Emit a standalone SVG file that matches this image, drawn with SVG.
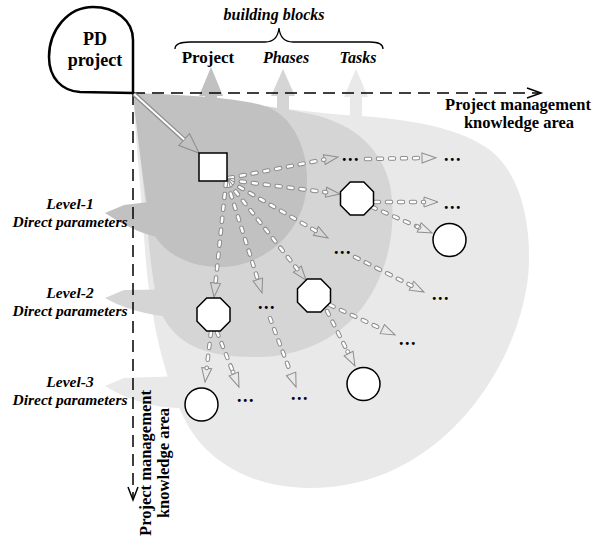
<svg xmlns="http://www.w3.org/2000/svg" width="594" height="542" viewBox="0 0 594 542">
<style>
text{font-family:"Liberation Serif","Times New Roman",serif;font-weight:bold;fill:#000}
.it{font-style:italic}
.lvl{font-size:15.5px;font-style:italic;text-anchor:middle}
.dots{font-size:18px;letter-spacing:1.5px;text-anchor:middle}
.dark{fill:#c1c1c1}.mid{fill:#d5d5d5}.light{fill:#e9e9e9}
.co{fill:none;stroke:#8c8c8c;stroke-width:4.5;stroke-linecap:round;stroke-dasharray:4 8;marker-end:url(#ah)}
.ci{fill:none;stroke:#fff;stroke-width:2.5;stroke-linecap:round;stroke-dasharray:4 8}
.node{fill:#fff;stroke:#000;stroke-width:1.5}
.axis{fill:none;stroke:#000;stroke-width:1.5;stroke-dasharray:12 7}
.ring{fill:#fff;stroke:#8c8c8c;stroke-width:1}
</style>
<defs>
<marker id="ah" markerUnits="userSpaceOnUse" markerWidth="16" markerHeight="12" refX="0" refY="5" orient="auto" overflow="visible">
<path d="M0,0 L14,5 L0,10 Z" fill="none" stroke="#8c8c8c" stroke-width="1"/>
</marker>
<marker id="ahb" markerUnits="userSpaceOnUse" markerWidth="22" markerHeight="18" refX="0" refY="8" orient="auto" overflow="visible">
<path d="M0,0 L20,8 L0,16 Z" fill="none" stroke="#8c8c8c" stroke-width="1"/>
</marker>
</defs>

<g id="regions">
<path class="light" d="M133,93 C230,100 300,112 360,116 C420,120 462,130 490,150 C522,175 530,225 529,262 C527,350 450,488 310,488 C250,488 205,460 185,420 C165,380 150,320 145,250 C140,180 135,130 133,93 Z"/>
<polygon class="light" points="356,69 368,97 362,97 362,118 350,118 350,97 344,97"/>
<path class="light" d="M105,386 L124,378 L182,376 L182,408 Q140,408 105,386 Z"/>
<path class="mid" d="M133,93 C200,97 260,104 300,112 C350,120 380,145 390,185 C400,240 380,300 340,330 C310,352 280,357 255,357 C205,357 172,345 158,305 C150,270 148,230 145,200 C140,150 136,120 133,93 Z"/>
<polygon class="mid" points="283,69 295,96 289,96 289,114 277,114 277,96 271,96"/>
<path class="mid" d="M105,298 L124,290 L195,289 L195,318 Q140,318 105,298 Z"/>
<path class="dark" d="M133,93 C190,95 245,98 270,108 C295,120 307,150 307,180 C307,230 265,267 220,267 C185,267 160,250 152,230 C145,200 138,140 133,93 Z"/>
<polygon class="dark" points="211,67 223,96 217,96 217,112 205,112 205,96 199,96"/>
<path class="dark" d="M105,213 L124,205 L165,200 L165,238 Q140,236 105,213 Z"/>
</g>

<g id="axes">
<path class="axis" d="M133,93 H539"/>
<path d="M527,88 L541,93 L527,98" fill="none" stroke="#000" stroke-width="1.5"/>
<path class="axis" d="M133,93 V498"/>
<path d="M128,487 L133,500 L138,487" fill="none" stroke="#000" stroke-width="1.5"/>
</g>

<g id="connectors">
<path d="M134,94 L184.2,139.6" fill="none" stroke="#8c8c8c" stroke-width="4.5" marker-end="url(#ahb)"/>
<path d="M134,94 L184.2,139.6" fill="none" stroke="#fff" stroke-width="2"/>
<path class="co" d="M229,178 L324.3,159.6"/><path class="ci" d="M229,178 L324.3,159.6"/>
<path class="co" d="M229,180 L326.1,192.2"/><path class="ci" d="M229,180 L326.1,192.2"/>
<path class="co" d="M229,181 L315.9,231"/><path class="ci" d="M229,181 L315.9,231"/>
<path class="co" d="M228,182 L297.3,269.1"/><path class="ci" d="M228,182 L297.3,269.1"/>
<path class="co" d="M227,182 L257.8,279.6"/><path class="ci" d="M227,182 L257.8,279.6"/>
<path class="co" d="M226,182 L215.5,283.1"/><path class="ci" d="M226,182 L215.5,283.1"/>
<path class="co" d="M366,159 L422,158"/><path class="ci" d="M366,159 L422,158"/>
<path class="co" d="M375,202 L424,202"/><path class="ci" d="M375,202 L424,202"/>
<path class="co" d="M372,207 L419.2,227.4"/><path class="ci" d="M372,207 L419.2,227.4"/>
<path class="co" d="M355,257 L411.5,285.7"/><path class="ci" d="M355,257 L411.5,285.7"/>
<path class="co" d="M330,305 L382.3,329.1"/><path class="ci" d="M330,305 L382.3,329.1"/>
<path class="co" d="M327,311 L348.6,353.5"/><path class="ci" d="M327,311 L348.6,353.5"/>
<path class="co" d="M211,332 L206.7,368.1"/><path class="ci" d="M211,332 L206.7,368.1"/>
<path class="co" d="M217,332 L233.8,374"/><path class="ci" d="M217,332 L233.8,374"/>
<path class="co" d="M270,318 L291.1,373.9"/><path class="ci" d="M270,318 L291.1,373.9"/>
<circle class="ring" cx="417.4" cy="226.6" r="2"/>
<circle class="ring" cx="347.7" cy="351.7" r="2"/>
<circle class="ring" cx="233" cy="372.1" r="2"/>
</g>

<g id="pd-project">
<path d="M133,93 L133,40 C133,20 115,7 93,7 C68,7 49,30 49,57 C49,78 62,91 80,92 L133,93 Z" fill="#fff" stroke="#000" stroke-width="2.5" stroke-linejoin="round"/>
<text x="95" y="45" font-size="18" text-anchor="middle">PD</text>
<text x="95" y="66" font-size="18" text-anchor="middle">project</text>
</g>

<g id="building-blocks">
<path d="M175,49 C175,44 180,42 190,42 L265,42 C272,42 278,38 279,28 C280,38 286,42 293,42 L370,42 C378,42 383,44 383,49" fill="none" stroke="#000" stroke-width="1.3"/>
<text class="it" x="274" y="20" font-size="16" text-anchor="middle">building blocks</text>
<text x="208" y="63" font-size="17" text-anchor="middle">Project</text>
<text class="it" x="286" y="63" font-size="16" text-anchor="middle">Phases</text>
<text class="it" x="358" y="63" font-size="16" text-anchor="middle">Tasks</text>
</g>

<g id="axis-labels">
<text x="518" y="110" font-size="16.5" text-anchor="middle">Project management</text>
<text x="519" y="128" font-size="16.5" text-anchor="middle">knowledge area</text>
<text transform="translate(151,463) rotate(-90)" font-size="16.5" text-anchor="middle">Project management</text>
<text transform="translate(169,463) rotate(-90)" font-size="16.5" text-anchor="middle">knowledge area</text>
</g>

<g id="level-labels">
<text class="lvl" x="70" y="209">Level-1</text>
<text class="lvl" x="70" y="227">Direct parameters</text>
<text class="lvl" x="70" y="298">Level-2</text>
<text class="lvl" x="70" y="316">Direct parameters</text>
<text class="lvl" x="70" y="387">Level-3</text>
<text class="lvl" x="70" y="405">Direct parameters</text>
</g>

<g id="square"><rect class="node" x="199" y="153" width="28" height="28"/></g>
<g id="oct-a"><polygon class="node" points="350.2,182 363.8,182 373.5,191.7 373.5,205.3 363.8,215 350.2,215 340.5,205.3 340.5,191.7"/></g>
<g id="oct-b"><polygon class="node" points="206.7,298 220.3,298 230,307.7 230,321.3 220.3,331 206.7,331 197,321.3 197,307.7"/></g>
<g id="oct-c"><polygon class="node" points="307.2,279 320.8,279 330.5,288.7 330.5,302.3 320.8,312 307.2,312 297.5,302.3 297.5,288.7"/></g>
<g id="circle-a"><circle class="node" cx="449.5" cy="240" r="16.5"/></g>
<g id="circle-b"><circle class="node" cx="201.5" cy="404.5" r="16.5"/></g>
<g id="circle-c"><circle class="node" cx="363.5" cy="384" r="16.5"/></g>

<g id="ellipses">
<text class="dots" x="351" y="161">...</text>
<text class="dots" x="453" y="161">...</text>
<text class="dots" x="453" y="209">...</text>
<text class="dots" x="343" y="254">...</text>
<text class="dots" x="441" y="300">...</text>
<text class="dots" x="267" y="309">...</text>
<text class="dots" x="408" y="345">...</text>
<text class="dots" x="246" y="402">...</text>
<text class="dots" x="300" y="400">...</text>
</g>
</svg>
